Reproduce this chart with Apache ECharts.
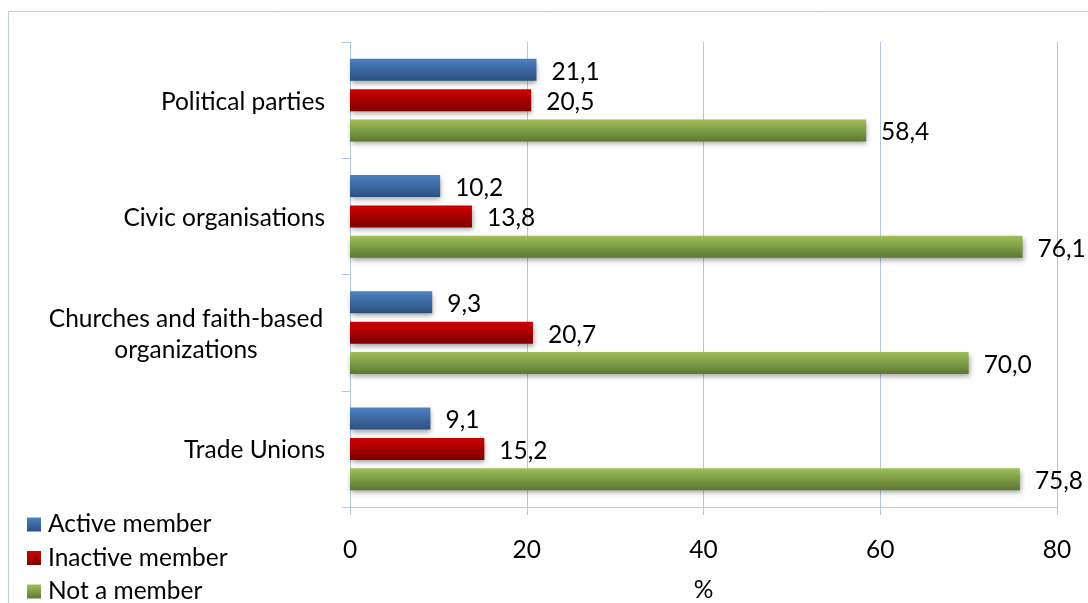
<!DOCTYPE html>
<html>
<head>
<meta charset="utf-8">
<script src="https://cdn.jsdelivr.net/npm/echarts@6/dist/echarts.min.js"></script>
<style>
  html, body { margin: 0; padding: 0; background: #ffffff; }
  #chart { width: 1088px; height: 603px; }
</style>
</head>
<body>
<div id="chart"></div>
<script>
// Membership shares (%) by organisation type
var categories = ['Political parties', 'Civic organisations', 'Churches and faith-based\norganizations', 'Trade Unions'];
var seriesNames = ['Active member', 'Inactive member', 'Not a member'];
var activeMember = [21.1, 10.2, 9.3, 9.1];
var inactiveMember = [20.5, 13.8, 20.7, 15.2];
var notMember = [58.4, 76.1, 70.0, 75.8];
var valueTicks = [0, 20, 40, 60, 80];

var FONT = 'Lato';
var FS = 24.5;
var LINE = '#b4c7e2';

function grad(top, bottom) {
  return new echarts.graphic.LinearGradient(0, 0, 0, 1, [
    { offset: 0, color: top },
    { offset: 1, color: bottom }
  ]);
}
var fills = [
  grad('#4d82c2', '#2c4f7f'),
  grad('#d00000', '#7c0000'),
  grad('#9fc05a', '#5d7731')
];

function fmt(v) { return v.toFixed(1).replace('.', ','); }

function makeSeries(name, data, idx) {
  return {
    name: name,
    type: 'bar',
    data: data,
    barWidth: 22,
    barGap: '38%',
    itemStyle: {
      color: fills[idx],
      shadowColor: 'rgba(0,0,0,0.35)',
      shadowBlur: 5,
      shadowOffsetX: 1,
      shadowOffsetY: 3
    },
    label: {
      show: true,
      position: 'right',
      distance: 15,
      offset: [0, 2],
      color: '#000',
      fontFamily: FONT,
      fontSize: FS,
      formatter: function (p) { return fmt(p.value); }
    }
  };
}

var chart = echarts.init(document.getElementById('chart'), null, { renderer: 'canvas' });
chart.setOption({
  animation: false,
  textStyle: { fontFamily: FONT },
  graphic: [{
    type: 'rect',
    shape: { x: 8.5, y: 11.5, width: 1200, height: 700 },
    style: { fill: 'none', stroke: '#bccbe3', lineWidth: 1 },
    silent: true,
    z: -1
  }],
  grid: { left: 350, right: 31, top: 42, bottom: 96, containLabel: false, outerBoundsMode: 'none' },
  legend: {
    orient: 'vertical',
    left: 22,
    top: 507,
    height: 200,
    itemWidth: 14,
    itemHeight: 14,
    itemGap: 8.5,
    icon: 'rect',
    data: seriesNames,
    textStyle: { fontFamily: FONT, fontSize: FS, color: '#000', padding: [0, 0, 0, 2] }
  },
  xAxis: {
    type: 'value',
    min: valueTicks[0],
    max: valueTicks[valueTicks.length - 1],
    interval: valueTicks[1] - valueTicks[0],
    name: '%',
    nameLocation: 'middle',
    nameGap: 71,
    nameTextStyle: { fontFamily: FONT, fontSize: FS, color: '#000' },
    axisLine: { show: true, lineStyle: { color: LINE, width: 1 } },
    axisTick: { show: true, length: 8, lineStyle: { color: LINE } },
    splitLine: { show: true, lineStyle: { color: LINE, width: 1 } },
    axisLabel: { margin: 31, fontFamily: FONT, fontSize: FS, color: '#000' }
  },
  yAxis: {
    type: 'category',
    data: categories,
    inverse: true,
    axisLine: { show: true, lineStyle: { color: LINE, width: 1 } },
    axisTick: { show: true, length: 8, lineStyle: { color: LINE } },
    axisLabel: {
      margin: 25,
      padding: [3, 0, 0, 0],
      color: '#000',
      fontFamily: FONT,
      fontSize: FS,
      lineHeight: 31,
      formatter: function (v) {
        if (v.indexOf('\n') >= 0) {
          return v.split('\n').map(function (s) { return '{c|' + s + '}'; }).join('\n');
        }
        return v;
      },
      rich: {
        c: { width: 278, align: 'center', fontFamily: FONT, fontSize: FS, lineHeight: 31, color: '#000' }
      }
    }
  },
  series: [
    makeSeries(seriesNames[0], activeMember, 0),
    makeSeries(seriesNames[1], inactiveMember, 1),
    makeSeries(seriesNames[2], notMember, 2)
  ]
});
</script>
</body>
</html>
